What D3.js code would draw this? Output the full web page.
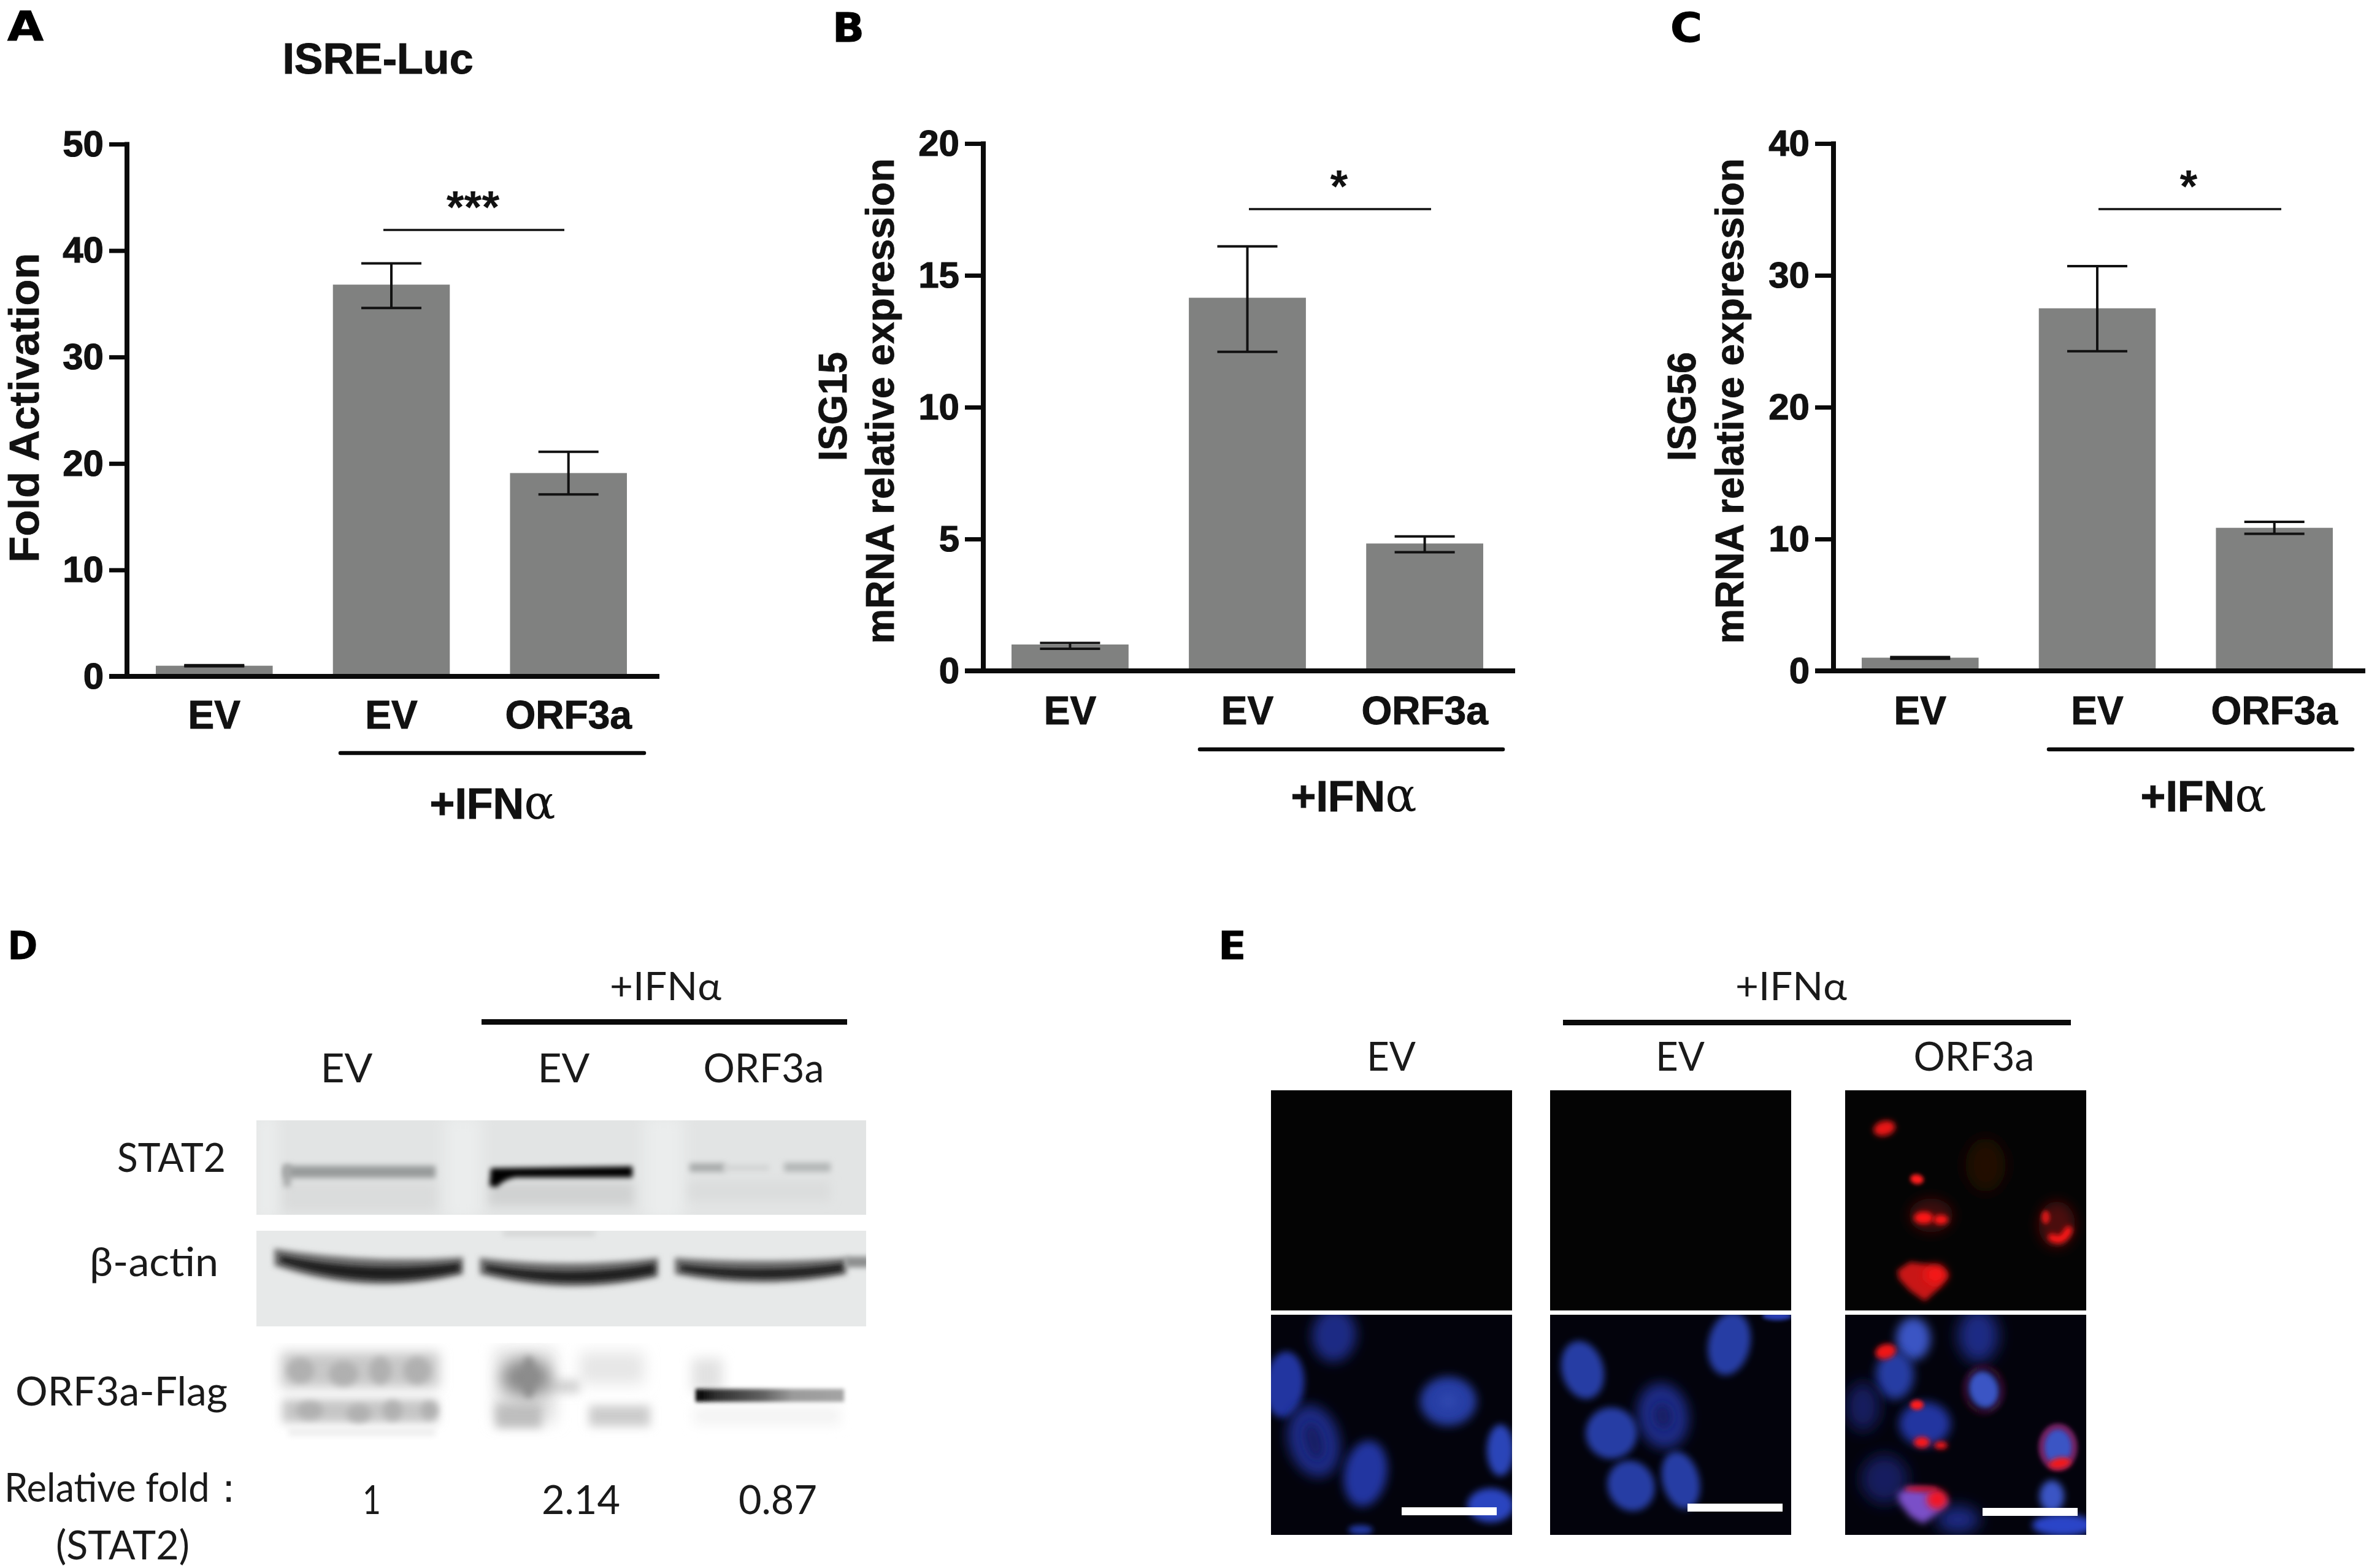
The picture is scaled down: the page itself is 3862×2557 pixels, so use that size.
<!DOCTYPE html>
<html><head><meta charset="utf-8">
<script src="https://cdn.jsdelivr.net/npm/d3@7/dist/d3.min.js"></script>
<style>html,body{margin:0;padding:0;background:#fff}svg{display:block}</style>
</head><body><svg id="c" width="3862" height="2557" viewBox="0 0 3862 2557"></svg>
<script>
// ---------- data ----------
const groups = ['EV', 'EV', 'ORF3a'];
const meanA = [1.0, 36.8, 19.1], upperA = [1.05, 38.8, 21.1], lowerA = [0.95, 34.6, 17.1];
const meanB = [1.0, 14.15, 4.83], upperB = [1.06, 16.1, 5.1], lowerB = [0.84, 12.1, 4.5];
const meanC = [1.0, 27.5, 10.85], upperC = [1.05, 30.7, 11.3], lowerC = [0.92, 24.25, 10.4];
const ticksA = [0, 10, 20, 30, 40, 50], ticksB = [0, 5, 10, 15, 20], ticksC = [0, 10, 20, 30, 40];
const maxA = 50, maxB = 20, maxC = 40;
const blotRows = ['STAT2', 'β-actin', 'ORF3a-Flag'];
const relFold = ['1', '2.14', '0.87'];

// ---------- setup ----------
const svg = d3.select('#c');
const SANS = "'Liberation Sans',Arial,sans-serif", SERIF = "'DejaVu Serif',serif", LATO = "Lato,'Open Sans',sans-serif";
const defs = svg.append('defs');
[2, 3, 4, 5, 6, 8, 10, 12, 14, 18].forEach(s => defs.append('filter').attr('id', 'b' + s)
  .attr('filterUnits', 'userSpaceOnUse').attr('x', 0).attr('y', 0).attr('width', 3862).attr('height', 2557)
  .append('feGaussianBlur').attr('stdDeviation', s));
function text(g, x, y, s, size, opt = {}) {
  const t = g.append('text').attr('x', x).attr('y', y).text(s)
    .attr('font-family', opt.font || SANS).attr('font-size', size)
    .attr('font-weight', opt.weight || 'normal').attr('text-anchor', opt.anchor || 'start')
    .attr('fill', opt.fill || '#111');
  if (opt.len) t.attr('textLength', opt.len).attr('lengthAdjust', 'spacingAndGlyphs');
  if (opt.heavy) t.attr('stroke', opt.fill || '#111').attr('stroke-width', opt.heavy);
  return t;
}
function vtext(g, x, y, s, size, len) {
  const t = g.append('text').attr('transform', `translate(${x},${y}) rotate(-90)`).text(s)
    .attr('font-family', SANS).attr('font-size', size).attr('font-weight', 'bold')
    .attr('text-anchor', 'middle').attr('fill', '#111').attr('stroke', '#111').attr('stroke-width', 0.8);
  if (len) t.attr('textLength', len).attr('lengthAdjust', 'spacingAndGlyphs');
}

// ---------- bar panels ----------
function barPanel(p) {
  const g = svg.append('g');
  const y = d3.scaleLinear().domain([0, p.max]).range([p.y0, p.yTop]);
  const x = d3.scaleBand().domain(d3.range(p.mean.length)).range(p.xRange).paddingInner(0.34).paddingOuter(0);
  g.selectAll('rect.bar').data(p.mean).join('rect').attr('class', 'bar')
    .attr('x', (d, i) => x(i)).attr('width', x.bandwidth())
    .attr('y', d => y(d)).attr('height', d => p.y0 - y(d)).attr('fill', '#808180');
  const eb = g.selectAll('g.err').data(p.mean).join('g').attr('class', 'err')
    .attr('transform', (d, i) => `translate(${x(i) + x.bandwidth() / 2},0)`)
    .attr('stroke', '#111').attr('stroke-width', 4);
  eb.append('line').attr('y1', (d, i) => y(p.upper[i])).attr('y2', (d, i) => y(p.lower[i]));
  eb.append('line').attr('x1', -p.cap).attr('x2', p.cap).attr('y1', (d, i) => y(p.upper[i])).attr('y2', (d, i) => y(p.upper[i]));
  eb.append('line').attr('x1', -p.cap).attr('x2', p.cap).attr('y1', (d, i) => y(p.lower[i])).attr('y2', (d, i) => y(p.lower[i]));

  const ay = g.append('g').attr('transform', `translate(${p.axisX},0)`)
    .call(d3.axisLeft(y).tickValues(p.ticks).tickSize(p.axisX - p.tickL).tickPadding(9));
  ay.selectAll('line').attr('stroke', '#0a0a0a').attr('stroke-width', 7);
  ay.select('.domain').attr('stroke', '#0a0a0a').attr('stroke-width', 8).attr('d', `M0,${p.yTop - 3.5}V${p.y0}`);
  ay.selectAll('text').attr('font-family', SANS).attr('font-weight', 'bold').attr('font-size', 60).attr('fill', '#111')
    .attr('stroke', '#111').attr('stroke-width', 1.2);
  g.append('line').attr('x1', p.tickL).attr('x2', p.xEnd).attr('y1', p.y0).attr('y2', p.y0)
    .attr('stroke', '#0a0a0a').attr('stroke-width', 8);

  const ax = g.append('g').attr('transform', `translate(0,${p.labelY})`)
    .call(d3.axisBottom(x).tickFormat(i => groups[i]).tickSize(0).tickPadding(0));
  ax.select('.domain').remove();
  ax.selectAll('text').attr('dy', 0).attr('y', 0).attr('font-family', SANS).attr('font-weight', 'bold')
    .attr('font-size', 64).attr('fill', '#111').attr('stroke', '#111').attr('stroke-width', 1);

  g.append('line').attr('x1', p.groupX[0]).attr('x2', p.groupX[1]).attr('y1', p.groupY).attr('y2', p.groupY)
    .attr('stroke', '#0a0a0a').attr('stroke-width', 6.5).attr('stroke-linecap', 'round');
  const ifn = text(g, p.ifnX, p.ifnY, '+IFN', 70, { weight: 'bold', anchor: 'middle', heavy: 1 });
  ifn.append('tspan').attr('font-family', SERIF).attr('font-weight', 'normal').attr('font-size', 76).attr('stroke-width', 0).text('α');

  g.append('line').attr('x1', p.sigX[0]).attr('x2', p.sigX[1]).attr('y1', p.sigY).attr('y2', p.sigY)
    .attr('stroke', '#111').attr('stroke-width', 3.5);
  text(g, (p.starX), p.sigY - 12, p.star, 74, { weight: 'bold', anchor: 'middle' });
  return g;
}
const common = { cap: 49 };
const gA = barPanel({ ...common, mean: meanA, upper: upperA, lower: lowerA, ticks: ticksA, max: maxA, y0: 1103, yTop: 235,
  xRange: [254, 1022], axisX: 207, tickL: 178, xEnd: 1075, labelY: 1188, groupX: [555, 1050], groupY: 1228,
  ifnX: 803, ifnY: 1335, sigX: [625, 920], sigY: 375, starX: 771, star: '***' });
const gB = barPanel({ ...common, mean: meanB, upper: upperB, lower: lowerB, ticks: ticksB, max: maxB, y0: 1094, yTop: 234,
  xRange: [1649, 2418], axisX: 1603, tickL: 1573, xEnd: 2470, labelY: 1181, groupX: [1956, 2450], groupY: 1222,
  ifnX: 2207, ifnY: 1323, sigX: [2036, 2333], sigY: 341, starX: 2183, star: '*' });
const gC = barPanel({ ...common, mean: meanC, upper: upperC, lower: lowerC, ticks: ticksC, max: maxC, y0: 1094, yTop: 234,
  xRange: [3035, 3803], axisX: 2989, tickL: 2959, xEnd: 3856, labelY: 1181, groupX: [3340, 3835], groupY: 1222,
  ifnX: 3592, ifnY: 1323, sigX: [3421, 3719], sigY: 341, starX: 3568, star: '*' });

text(gA, 616, 120, 'ISRE-Luc', 70, { weight: 'bold', anchor: 'middle', heavy: 1 });
vtext(gA, 63, 665, 'Fold Activation', 69, 505);
vtext(gB, 1380, 663, 'ISG15', 64, 178);
vtext(gB, 1457, 654, 'mRNA relative expression', 64, 792);
vtext(gC, 2764, 663, 'ISG56', 64, 178);
vtext(gC, 2842, 654, 'mRNA relative expression', 64, 792);

// panel letters
const DJ = "'DejaVu Sans',sans-serif", OS = "'Open Sans',sans-serif";
[['A', 12, 66, DJ, 59], ['B', 1357, 68, DJ, 52], ['C', 2723, 68, DJ, 52], ['D', 12, 1564, OS, 50], ['E', 1985, 1564, OS, 46]]
  .forEach(([s, x, y, f, len]) => text(svg, x, y, s, 65, { font: f, weight: 'bold', fill: '#000', len, heavy: 1 }));

// ---------- D: western blot ----------
const gD = svg.append('g');
const TL = { font: LATO, fill: '#1a1a1a' };
text(gD, 1085, 1631, '+IFNα', 64, { ...TL, anchor: 'middle', len: 182 });
gD.append('rect').attr('x', 785).attr('y', 1662).attr('width', 596).attr('height', 9).attr('fill', '#0a0a0a');
[[565, 'EV', 85], [919, 'EV', 85], [1245, 'ORF3a', 197]].forEach(([x, s, len]) => text(gD, x, 1765, s, 66, { ...TL, anchor: 'middle', len }));
[[368, 1911, blotRows[0], 177], [356, 2081, blotRows[1], 210], [371, 2292, blotRows[2], 346]]
  .forEach(([x, y, s, len]) => text(gD, x, y, s, 66, { ...TL, anchor: 'end', len }));
text(gD, 205, 2449, 'Relative fold：', 66, { ...TL, anchor: 'middle', len: 396 });
text(gD, 200, 2543, '(STAT2)', 66, { ...TL, anchor: 'middle', len: 218 });
[[606, 30], [947, 128], [1268, 128]].forEach(([x, len], i) => text(gD, x, 2469, relFold[i], 66, { ...TL, anchor: 'middle', len }));

function blotPanel(id, x, y, w, h, bg) {
  defs.append('clipPath').attr('id', id).append('rect').attr('x', x).attr('y', y).attr('width', w).attr('height', h);
  gD.append('rect').attr('x', x).attr('y', y).attr('width', w).attr('height', h).attr('fill', bg);
  return gD.append('g').attr('clip-path', `url(#${id})`);
}
function blurRect(g, x, y, w, h, c, b) {
  return g.append('rect').attr('x', x).attr('y', y).attr('width', w).attr('height', h).attr('fill', c).attr('filter', `url(#b${b})`);
}
function blurEll(g, cx, cy, rx, ry, c, b) {
  return g.append('ellipse').attr('cx', cx).attr('cy', cy).attr('rx', rx).attr('ry', ry).attr('fill', c).attr('filter', `url(#b${b})`);
}
const s2 = blotPanel('cS', 418, 1827, 994, 154, '#e2e4e4');
[[725, 1820, 60, 170, '#ebeded', 12], [1050, 1820, 65, 170, '#ebeded', 12], [415, 1820, 38, 170, '#eaecec', 10]]
  .forEach(a => blurRect(s2, ...a));
[[462, 1928, 250, 46, '#dadcdc'], [797, 1928, 236, 38, '#d0d2d2'], [1122, 1925, 232, 34, '#dbdddd']]
  .forEach(([x, y, w, h, c]) => blurRect(s2, x, y, w, h, c, 8));
blurRect(s2, 462, 1901, 248, 20, '#989b9b', 5);
blurRect(s2, 462, 1899, 12, 36, '#a8aaaa', 5);
s2.append('path').attr('d', 'M800,1905 L1031,1902 L1031,1920 L840,1920 Q820,1924 810,1936 L798,1934 Z').attr('fill', '#000').attr('filter', 'url(#b4)');
blurRect(s2, 1124, 1897, 58, 14, '#a8abab', 5);
blurRect(s2, 1180, 1900, 74, 9, '#d0d2d2', 5);
blurRect(s2, 1278, 1896, 76, 15, '#b4b7b7', 5);

const act = blotPanel('cA', 418, 2007, 994, 156, '#e7e9e9');
blurRect(act, 820, 2006, 150, 10, '#d4d6d6', 5);
function crescent(x0, x1, tl, tc, tr, bl, bc, br) {
  const m = (x0 + x1) / 2;
  const q = (l, c, r) => 2 * c - (l + r) / 2;
  return `M${x0},${tl}Q${m},${q(tl, tc, tr)} ${x1},${tr}L${x1},${br}Q${m},${q(bl, bc, br)} ${x0},${bl}Z`;
}
[[447, 755, 2036, 2052, 2050, 2064, 2094, 2078], [782, 1073, 2051, 2060, 2051, 2078, 2098, 2082], [1100, 1380, 2051, 2056, 2051, 2078, 2092, 2078]]
  .forEach(a => {
    act.append('path').attr('d', crescent(...a)).attr('fill', '#6e6e6e').attr('filter', 'url(#b5)');
    act.append('path').attr('d', crescent(a[0] + 10, a[1] - 6, a[2] + 12, a[3] + 14, a[4] + 10, a[5] - 6, a[6] - 8, a[7] - 5)).attr('fill', '#1c1c1c').attr('filter', 'url(#b4)');
  });
blurRect(act, 1378, 2049, 40, 18, '#8d8f8f', 4);

const fl = blotPanel('cF', 440, 2190, 972, 160, '#fff');
[[458, 2205, 258, 58, '#c8c8c8', 10], [460, 2282, 254, 38, '#c6c6c6', 8], [470, 2328, 240, 14, '#efefef', 5],
 [806, 2200, 100, 120, '#e0e0e0', 12], [945, 2205, 105, 52, '#e6e6e6', 12], [808, 2290, 75, 38, '#bebebe', 8],
 [960, 2292, 100, 34, '#cccccc', 8], [880, 2250, 65, 22, '#d2d2d2', 8], [1128, 2215, 50, 55, '#e2e2e2', 10], [1130, 2295, 240, 28, '#f3f3f3', 10]]
  .forEach(a => blurRect(fl, ...a));
[[490, 2235, 22, 20], [560, 2240, 24, 20], [620, 2235, 18, 22], [680, 2235, 22, 22], [505, 2300, 22, 14], [585, 2305, 20, 14], [640, 2300, 16, 16], [700, 2300, 14, 14]]
  .forEach(([cx, cy, rx, ry]) => blurEll(fl, cx, cy, rx, ry, '#b0b0b0', 6));
blurEll(fl, 858, 2246, 40, 30, '#8a8a8a', 12);
blurEll(fl, 862, 2246, 10, 34, '#8c8c8c', 6);
const flagGrad = defs.append('linearGradient').attr('id', 'fg');
[[0, '#000000'], [0.14, '#303030'], [0.45, '#606060'], [0.65, '#9a9a9a'], [1, '#a4a4a4']]
  .forEach(([o, c]) => flagGrad.append('stop').attr('offset', o).attr('stop-color', c));
fl.append('rect').attr('x', 1134).attr('y', 2265).attr('width', 242).attr('height', 21).attr('fill', 'url(#fg)').attr('filter', 'url(#b3)');

// ---------- E: fluorescence panels ----------
const gE = svg.append('g');
text(gE, 2920, 1631, '+IFNα', 64, { ...TL, anchor: 'middle', len: 182 });
gE.append('rect').attr('x', 2548).attr('y', 1663).attr('width', 828).attr('height', 9).attr('fill', '#0a0a0a');
[[2268, 'EV', 80], [2739, 'EV', 80], [3218, 'ORF3a', 197]].forEach(([x, s, len]) => text(gE, x, 1746, s, 66, { ...TL, anchor: 'middle', len }));

const colX = [2072, 2527, 3008], cw = 393, topY = 1778, botY = 2144, ch = 359;
colX.forEach((x, i) => {
  gE.append('rect').attr('x', x).attr('y', topY).attr('width', cw).attr('height', ch).attr('fill', '#040404');
  gE.append('rect').attr('x', x).attr('y', botY).attr('width', cw).attr('height', ch).attr('fill', '#03030c');
  defs.append('clipPath').attr('id', 'ct' + i).append('rect').attr('x', x).attr('y', topY).attr('width', cw).attr('height', ch);
  defs.append('clipPath').attr('id', 'cb' + i).append('rect').attr('x', x).attr('y', botY).attr('width', cw).attr('height', ch);
});
// spots: [cx, cy, rx, ry, rotation, colour, blur] in original picture pixels
const BR = '#3a54c4', MD = '#283ea4', DM = '#1c2a84', VD = '#131c5e';
const nucleiEV1 = [[2175, 2177, 36, 44, 5, DM, 10], [2094, 2258, 32, 54, 5, '#2236a0', 6], [2142, 2350, 42, 60, -15, DM, 10],
  [2361, 2285, 46, 40, 0, MD, 8], [2226, 2403, 35, 54, 10, '#2236a0', 8], [2446, 2365, 22, 42, 0, '#2c44b8', 6], [2430, 2455, 38, 28, 0, '#2c44c0', 6], [2218, 2495, 20, 8, 0, '#2438a0', 5]];
const nucleiEV2 = [[2580, 2234, 34, 48, -15, MD, 6], [2819, 2191, 34, 52, 12, MD, 6], [2711, 2309, 42, 54, -10, DM, 10], [2627, 2337, 42, 42, -25, MD, 6],
  [2740, 2414, 30, 48, -15, MD, 6], [2659, 2423, 38, 42, -25, MD, 6], [2897, 2146, 24, 7, 0, '#2a40b8', 3]];
const innerDark = [[2142, 2350, 14, 30, -15, '#141e64', 8], [2361, 2285, 16, 14, 0, '#2f46ae', 8], [2711, 2309, 14, 20, -10, '#141e64', 8]];
const nucleiOrf = [[3119, 2183, 28, 35, 0, BR, 8], [3225, 2178, 33, 44, 0, DM, 12], [3089, 2242, 31, 40, 0, MD, 8], [3234, 2266, 26, 33, -20, BR, 6],
  [3037, 2294, 28, 40, 0, VD, 12], [3138, 2322, 42, 36, 0, '#2434a0', 8], [3355, 2360, 26, 33, 0, BR, 5], [3072, 2412, 38, 40, 0, VD, 12],
  [3192, 2478, 35, 22, 0, DM, 12], [3345, 2440, 20, 26, 0, BR, 6], [3363, 2487, 50, 18, 0, '#2c44c8', 6]];
const redTop = [[3072, 1840, 18, 12, -15, '#e81818', 5], [3125, 1923, 11, 8, 10, '#ff1c1c', 3], [3148, 1982, 36, 28, 0, '#3c0a08', 10], [3136, 1986, 16, 10, 0, '#ff1818', 4], [3164, 1989, 12, 8, 0, '#ff1818', 4],
  [3237, 1900, 33, 44, 0, '#220906', 12], [3353, 1997, 30, 38, 0, '#4c0c0a', 10]];
const redMerge = [[3074, 2204, 17, 12, -15, '#f01818', 4], [3125, 2291, 11, 8, 0, '#ff1c1c', 3], [3133, 2352, 13, 9, 0, '#ff1818', 4], [3164, 2357, 11, 6, 0, '#ff1818', 4], [3358, 2386, 18, 9, -10, '#f61818', 4]];
function spots(clip, arr) {
  const g = gE.append('g').attr('clip-path', `url(#${clip})`);
  arr.forEach(([cx, cy, rx, ry, r, c, b]) => {
    g.append('ellipse').attr('cx', cx).attr('cy', cy).attr('rx', rx).attr('ry', ry)
      .attr('transform', `rotate(${r},${cx},${cy})`).attr('fill', c).attr('filter', `url(#b${b})`);
  });
  return g;
}
spots('cb0', nucleiEV1.concat(innerDark.slice(0, 2)));
spots('cb1', nucleiEV2.concat(innerDark.slice(2)));
const mergeG = spots('cb2', nucleiOrf);
mergeG.append('ellipse').attr('cx', 3234).attr('cy', 2266).attr('rx', 31).attr('ry', 37).attr('fill', 'none').attr('stroke', '#3c0e20').attr('stroke-width', 6).attr('filter', 'url(#b5)');
mergeG.append('ellipse').attr('cx', 3355).attr('cy', 2360).attr('rx', 27).attr('ry', 34).attr('fill', 'none').attr('stroke', '#b02070').attr('stroke-width', 6).attr('filter', 'url(#b4)');
mergeG.append('path').attr('d', 'M3093,2435 L3111,2426 L3155,2431 L3177,2450 L3158,2469 L3135,2485 L3114,2473 L3096,2450Z').attr('fill', '#7a50c8').attr('filter', 'url(#b6)');
blurEll(mergeG, 3158, 2445, 17, 16, '#f01828', 6);
blurEll(mergeG, 3132, 2428, 28, 4, '#e81830', 4);
spots('cb2', redMerge);
const topG = spots('ct2', redTop);
topG.append('path').attr('d', 'M3093,2072 L3114,2058 L3165,2065 L3177,2079 L3162,2100 L3138,2122 L3114,2105 L3096,2086Z').attr('fill', '#c81416').attr('filter', 'url(#b5)');
blurEll(topG, 3155, 2079, 17, 15, '#f81818', 8);
topG.append('path').attr('d', 'M3345,2018 Q3362,2028 3372,2006').attr('fill', 'none').attr('stroke', '#ff1818').attr('stroke-width', 13).attr('stroke-linecap', 'round').attr('filter', 'url(#b4)');
blurEll(topG, 3335, 1985, 7, 11, '#d01818', 3);

[[2285, 2458], [2751, 2452], [3232, 2459]].forEach(([x, y]) =>
  gE.append('rect').attr('x', x).attr('y', y).attr('width', 155).attr('height', 13).attr('fill', '#fff'));
</script></body></html>
